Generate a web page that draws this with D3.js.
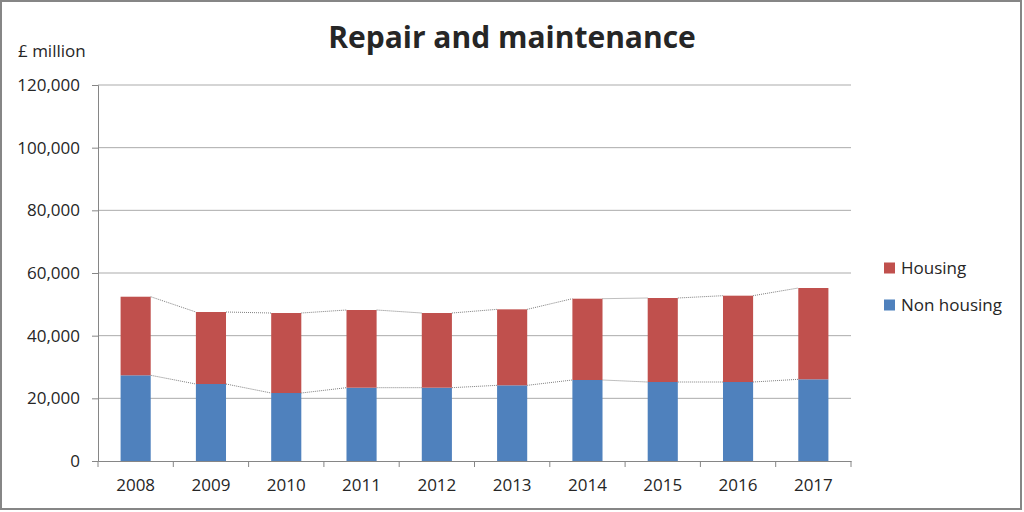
<!DOCTYPE html>
<html>
<head>
<meta charset="utf-8">
<script src="https://cdn.jsdelivr.net/npm/d3@7"></script>
<style>
  html, body { margin: 0; padding: 0; background: #fff; }
  svg text { font-family: "Open Sans", "Noto Sans", sans-serif; fill: #262626; }
</style>
</head>
<body>
<svg id="chart" width="1024" height="512"></svg>
<script>
'use strict';

const years = ['2008', '2009', '2010', '2011', '2012', '2013', '2014', '2015', '2016', '2017'];
const nonHousing = [27350, 24570, 21700, 23400, 23400, 24150, 25850, 25210, 25210, 26070];
const housing = [25080, 22980, 25530, 24790, 23830, 24250, 25950, 26810, 27550, 29140];
const seriesNames = ['Non housing', 'Housing'];
const seriesColors = ['#4f81bd', '#c0504d'];
const yTicks = [0, 20000, 40000, 60000, 80000, 100000, 120000];

const svg = d3.select('#chart');
const margin = { left: 98, right: 851, top: 85, bottom: 461 };

// outer frame
svg.append('rect')
  .attr('x', 1).attr('y', 1)
  .attr('width', 1020).attr('height', 508)
  .attr('fill', '#fff')
  .attr('stroke', '#868686')
  .attr('stroke-width', 2);

const x = d3.scaleBand()
  .domain(years)
  .range([margin.left, margin.right])
  .paddingInner(0.6)
  .paddingOuter(0.3);

const y = d3.scaleLinear()
  .domain([0, 120000])
  .range([margin.bottom, margin.top]);

// gridlines
svg.append('g')
  .selectAll('line')
  .data(yTicks.slice(1))
  .enter().append('line')
    .attr('x1', margin.left)
    .attr('x2', margin.right)
    .attr('y1', d => y(d))
    .attr('y2', d => y(d))
    .attr('stroke', '#ababab')
    .attr('stroke-width', 1);

// stacked data
const rows = years.map((yr, i) => ({ year: yr, 'Non housing': nonHousing[i], 'Housing': housing[i] }));
const stack = d3.stack().keys(seriesNames)(rows);

const layers = svg.append('g')
  .selectAll('g')
  .data(stack)
  .enter().append('g')
    .attr('fill', (d, i) => seriesColors[i]);

layers.selectAll('rect')
  .data(d => d)
  .enter().append('rect')
    .attr('x', d => x(d.data.year))
    .attr('width', x.bandwidth())
    .attr('y', d => y(d[1]))
    .attr('height', d => y(d[0]) - y(d[1]));

// series lines between bars (Excel style)
stack.forEach(layer => {
  const segs = d3.pairs(layer);
  svg.append('g')
    .selectAll('line')
    .data(segs)
    .enter().append('line')
      .attr('x1', d => x(d[0].data.year) + x.bandwidth())
      .attr('y1', d => y(d[0][1]))
      .attr('x2', d => x(d[1].data.year))
      .attr('y2', d => y(d[1][1]))
      .attr('stroke', '#7f7f7f')
      .attr('stroke-width', 1)
      .attr('stroke-dasharray', '1,1');
});

// y axis
const yAxis = d3.axisLeft(y)
  .tickValues(yTicks)
  .tickSize(6)
  .tickPadding(12)
  .tickFormat(d3.format(','));
const yG = svg.append('g')
  .attr('transform', 'translate(' + margin.left + ',0)')
  .call(yAxis);
yG.select('.domain').attr('stroke', '#868686');
yG.selectAll('.tick line').attr('stroke', '#868686');
yG.selectAll('.tick text')
  .attr('font-size', 17)
  .attr('fill', '#262626');

// x axis
const xAxis = d3.axisBottom(x).tickSize(0).tickPadding(18);
const xG = svg.append('g')
  .attr('transform', 'translate(0,' + margin.bottom + ')')
  .call(xAxis);
xG.select('.domain').attr('stroke', '#868686');
xG.selectAll('.tick text')
  .attr('font-size', 17)
  .attr('fill', '#262626');

// category boundary ticks
const step = x.step();
xG.append('g')
  .selectAll('line')
  .data(d3.range(years.length + 1))
  .enter().append('line')
    .attr('x1', i => margin.left + i * step)
    .attr('x2', i => margin.left + i * step)
    .attr('y1', 0)
    .attr('y2', 6)
    .attr('stroke', '#868686');

// title and unit label
svg.append('text')
  .attr('x', 512)
  .attr('y', 48)
  .attr('text-anchor', 'middle')
  .attr('font-size', 30)
  .attr('font-weight', 'bold')
  .attr('fill', '#000')
  .text('Repair and maintenance');

svg.append('text')
  .attr('x', 18)
  .attr('y', 57)
  .attr('font-size', 17)
  .text('£ million');

// legend
const legendItems = [
  { name: 'Housing', color: seriesColors[1], y: 268 },
  { name: 'Non housing', color: seriesColors[0], y: 305 }
];
const lg = svg.append('g').selectAll('g')
  .data(legendItems)
  .enter().append('g')
    .attr('transform', d => 'translate(884,' + d.y + ')');
lg.append('rect')
  .attr('x', 0).attr('y', -5.5)
  .attr('width', 11).attr('height', 11)
  .attr('fill', d => d.color);
lg.append('text')
  .attr('x', 17)
  .attr('y', 6)
  .attr('font-size', 17)
  .text(d => d.name);
</script>
</body>
</html>
